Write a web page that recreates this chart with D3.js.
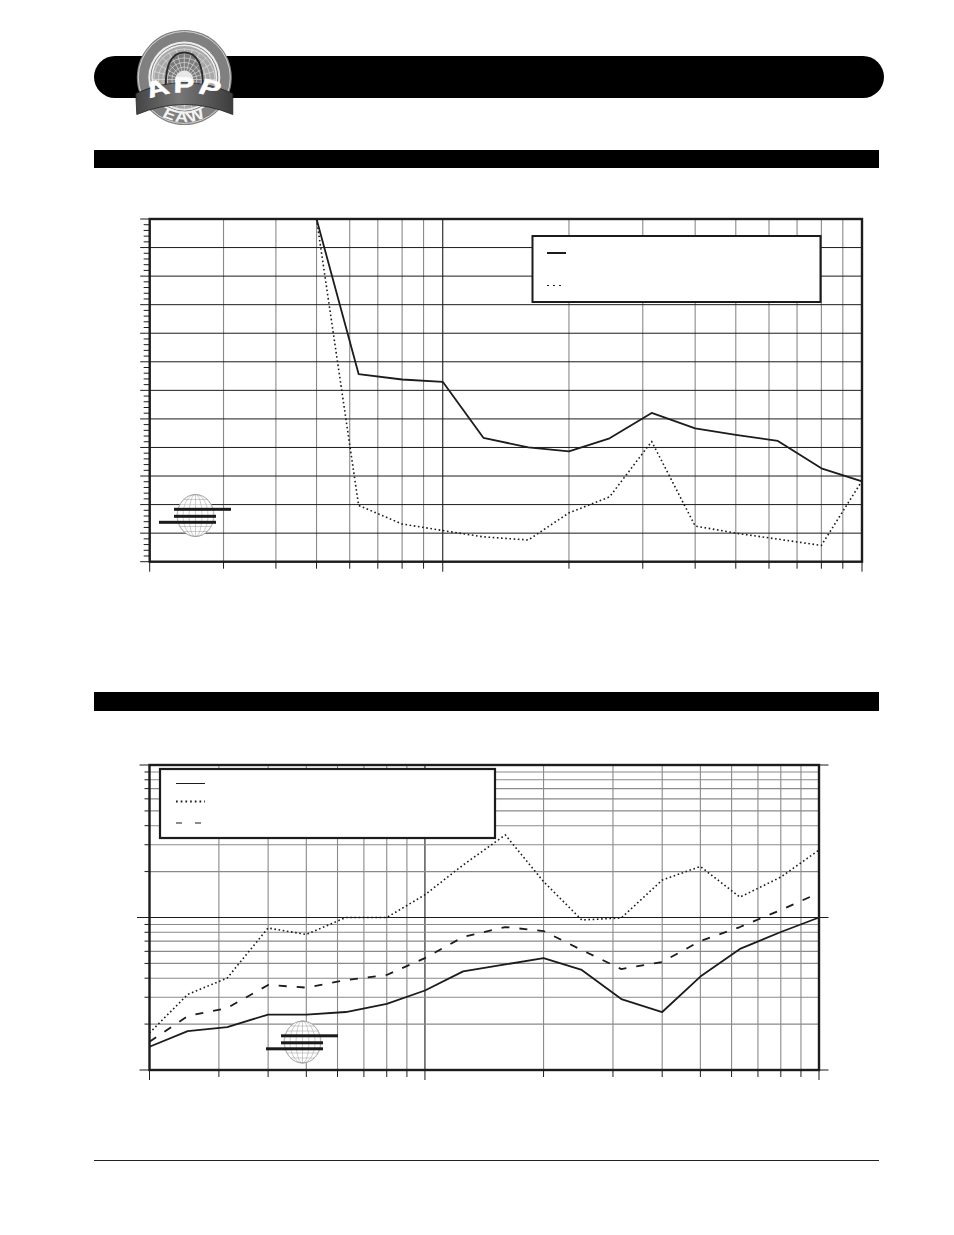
<!DOCTYPE html>
<html><head><meta charset="utf-8">
<script src="https://cdn.jsdelivr.net/npm/d3@7"></script>
<style>html,body{margin:0;padding:0;background:#fff}svg{display:block}</style>
</head><body><svg id="page" width="954" height="1235"></svg>
<script>
// ---------- data ----------
const freqA = [50,63,80,100,125,160,200,250,315,400,500,630,800,1000];
const solidA = [12,6.57,6.38,6.30,4.34,4.0,3.86,4.32,5.21,4.67,4.44,4.23,3.27,2.81];
const dottedA = [12,1.97,1.32,1.09,0.87,0.76,1.71,2.27,4.21,1.25,1.0,0.79,0.57,2.83];

const freqB = [20,25,31.5,40,50,63,80,100,125,160,200,250,315,400,500,630,800,1000];
const solidB = [1.42,1.80,1.91,2.31,2.31,2.40,2.71,3.32,4.43,4.92,5.42,4.53,2.92,2.40,4.10,6.22,8.03,10];
const dottedB = [1.75,3.13,4.01,8.53,7.74,10,10,14.1,22.1,34.8,17.2,9.63,9.93,17.6,21.6,13.6,18.4,27.7];
const dashedB = [1.53,2.26,2.55,3.61,3.47,3.89,4.20,5.42,7.45,8.66,8.15,6.12,4.59,5.11,7.01,8.66,11.2,14.5];

const freqTicks = [20,30,40,50,60,70,80,90,100,200,300,400,500,600,700,800,900,1000];
const linMajor = d3.range(0,13,1);
const linMinor = d3.range(0,12.01,0.2).map(v=>+v.toFixed(1));
const logTicks = [1,2,3,4,5,6,7,8,9,10,20,30,40,50,60,70,80,90,100];
const logDecades = [1,10,100];

const svg = d3.select("#page");
const INK = "#1d1b1c", GRID = "#8a8a8a";
const noLabel = () => "";

// ---------- page furniture ----------
svg.append("rect").attr("x",94).attr("y",56).attr("width",790).attr("height",42).attr("rx",21).attr("fill","#000");
svg.append("rect").attr("x",94).attr("y",150).attr("width",785).attr("height",18).attr("fill","#000");
svg.append("rect").attr("x",94).attr("y",692).attr("width",785).attr("height",19).attr("fill","#000");
svg.append("line").attr("x1",94).attr("x2",879).attr("y1",1160.5).attr("y2",1160.5).attr("stroke","#222").attr("stroke-width",1);

// ---------- top logo ----------
(function logo(){
  const g = svg.append("g").attr("transform","translate(184.3,77.5)");
  g.append("circle").attr("r",47.5).attr("fill","#808080");
  g.append("circle").attr("r",46).attr("fill","none").attr("stroke","#dcdcdc").attr("stroke-width",0.9);
  g.append("circle").attr("r",36).attr("fill","#eeeeee");
  g.append("circle").attr("r",33.5).attr("fill","none").attr("stroke","#666").attr("stroke-width",0.8);
  g.append("circle").attr("r",31.5).attr("fill","#a8a8a8");
  const p = g.append("g").attr("transform","translate(0,2)");
  p.append("path").attr("d","M-18,18C-21,-16,-12,-27,0,-27C12,-27,21,-16,18,18Z").attr("fill","#7c7c7c");
  d3.range(8,34,4.5).forEach(r=>p.append("circle").attr("r",r).attr("fill","none").attr("stroke","#e6e6e6").attr("stroke-width",0.6));
  d3.range(0,360,15).forEach(a=>{
    const t=a*Math.PI/180;
    p.append("line").attr("x1",8*Math.cos(t)).attr("y1",8*Math.sin(t))
      .attr("x2",31*Math.cos(t)).attr("y2",31*Math.sin(t)).attr("stroke","#e6e6e6").attr("stroke-width",0.6);
  });
  p.append("path").attr("d","M-18,18C-21,-16,-12,-27,0,-27C12,-27,21,-16,18,18").attr("fill","none").attr("stroke","#2a2a2a").attr("stroke-width",1.8);
  p.append("path").attr("d","M-9,0A9,9 0 0 1 9,0L9,4L-9,4Z").attr("fill","#e8e8e8");
  const defs = svg.append("defs");
  const grad = defs.append("linearGradient").attr("id","bannerFill").attr("x1",0).attr("x2",1).attr("y1",0).attr("y2",0);
  [[0,"#444"],[0.45,"#777"],[1,"#3c3c3c"]].forEach(s=>grad.append("stop").attr("offset",s[0]).attr("stop-color",s[1]));
  defs.append("path").attr("id","arcApp").attr("d","M-30,24Q0,6 30,24");
  defs.append("path").attr("id","arcEaw").attr("d","M-21,37Q0,52 21,37");
  const t = svg.append("g").attr("transform","translate(184.3,77.5)");
  t.append("g").attr("transform","scale(1.25,1)")
    .append("text").attr("font-family","Liberation Sans").attr("font-size",15).attr("font-weight",700).attr("fill","#f4f4f4")
    .attr("letter-spacing",1.5).append("textPath").attr("href","#arcEaw").attr("startOffset","50%").attr("text-anchor","middle").text("EAW");
  t.append("path").attr("d","M-48.5,16Q0,-6 48.5,16L48.5,37Q0,17 -47.5,37Z").attr("fill","url(#bannerFill)").attr("stroke","#222").attr("stroke-width",0.8);
  t.append("g").attr("transform","scale(1.4,1)")
    .append("text").attr("font-family","Liberation Sans").attr("font-size",22).attr("font-weight",700)
    .attr("fill","#fff").attr("stroke","#fff").attr("stroke-width",0.5).attr("letter-spacing",2)
    .append("textPath").attr("href","#arcApp").attr("startOffset","50%").attr("text-anchor","middle").text("APP");
})();

// small globe emblem
function globe(cx, cy){
  const g = svg.append("g").attr("transform",`translate(${cx},${cy})`);
  const c = "#9a9a9a";
  g.append("ellipse").attr("rx",18.5).attr("ry",21).attr("fill","#fff").attr("stroke",c).attr("stroke-width",0.6);
  [6.5,12.5,18].forEach(rx=>g.append("ellipse").attr("rx",rx).attr("ry",21).attr("fill","none").attr("stroke",c).attr("stroke-width",0.5));
  g.append("line").attr("y1",-21).attr("y2",21).attr("stroke",c).attr("stroke-width",0.5);
  [-16,-11,-6,0,6,11,16].forEach(dy=>{
    const hw = 18.5*Math.sqrt(1-(dy/21)*(dy/21));
    g.append("line").attr("x1",-hw).attr("x2",hw).attr("y1",dy).attr("y2",dy).attr("stroke",c).attr("stroke-width",0.5);
  });
  [[-21.5,35.5,-6.2],[-21.5,20.5,0.8],[-36.5,20.5,6.8]].forEach(b=>{
    g.append("rect").attr("x",b[0]).attr("width",b[1]-b[0]).attr("y",b[2]-1.5).attr("height",3).attr("fill","#1a1a1a");
  });
}

// ---------- generic plot helpers ----------
function xAxisLayers(g, x, top, bottom){
  g.append("g").attr("transform",`translate(0,${bottom})`)
    .call(d3.axisBottom(x).offset(0).tickValues(freqTicks).tickSize(top-bottom).tickFormat(noLabel))
    .call(a=>a.select(".domain").remove())
    .call(a=>a.selectAll("line").attr("stroke",d=>d===100?INK:GRID).attr("stroke-width",1.1));
  g.append("g").attr("transform",`translate(0,${bottom})`)
    .call(d3.axisBottom(x).offset(0).tickValues(freqTicks).tickSize(7).tickFormat(noLabel))
    .call(a=>a.select(".domain").remove())
    .call(a=>a.selectAll("line").attr("stroke",INK).attr("stroke-width",1)
      .attr("y2",d=>(d===20||d===1000||d===100)?10:7));
}
function frame(g, l, r, t, b){
  g.append("rect").attr("x",l).attr("y",t).attr("width",r-l).attr("height",b-t)
    .attr("fill","none").attr("stroke",INK).attr("stroke-width",2.4);
}
function series(g, x, y, xs, ys, dash, w){
  const line = d3.line().x((d,i)=>x(xs[i])).y(d=>y(d));
  g.append("path").datum(ys).attr("d",line).attr("fill","none").attr("stroke",INK)
    .attr("stroke-width",w).attr("stroke-linejoin","round")
    .attr("stroke-dasharray",dash);
}

// ---------- chart A ----------
(function(){
  const L=149.7,R=862,T=219,B=561.7;
  const x=d3.scaleLog().domain([20,1000]).range([L,R]);
  const y=d3.scaleLinear().domain([0,12]).range([B,T]);
  const g=svg.append("g");
  xAxisLayers(g,x,T,B);
  g.append("g").attr("transform",`translate(${L},0)`)
    .call(d3.axisLeft(y).offset(0).tickValues(linMajor).tickSize(L-R).tickFormat(noLabel))
    .call(a=>a.select(".domain").remove())
    .call(a=>a.selectAll("line").attr("stroke",INK).attr("stroke-width",1));
  g.append("g").attr("transform",`translate(${L},0)`)
    .call(d3.axisLeft(y).offset(0).tickValues(linMinor).tickSize(6).tickFormat(noLabel))
    .call(a=>a.select(".domain").remove())
    .call(a=>a.selectAll("line").attr("stroke",INK).attr("stroke-width",1)
      .attr("x2",d=>Number.isInteger(d)?-9.5:-6));
  frame(g,L,R,T,B);
  series(g,x,y,freqA,solidA,null,1.8);
  series(g,x,y,freqA,dottedA,"1.6 2.6",1.6);
  globe(195.5,515.5);
  svg.append("rect").attr("x",532.5).attr("y",236).attr("width",288).attr("height",66)
    .attr("fill","#fff").attr("stroke",INK).attr("stroke-width",2);
  svg.append("line").attr("x1",547).attr("x2",566).attr("y1",253).attr("y2",253).attr("stroke",INK).attr("stroke-width",2);
  svg.append("line").attr("x1",547).attr("x2",564).attr("y1",285.5).attr("y2",285.5).attr("stroke",INK).attr("stroke-width",1).attr("stroke-dasharray","2 4");
})();

// ---------- chart B ----------
(function(){
  const L=149.5,R=819,T=765,B=1070;
  const x=d3.scaleLog().domain([20,1000]).range([L,R]);
  const y=d3.scaleLog().domain([1,100]).range([B,T]);
  const g=svg.append("g");
  xAxisLayers(g,x,T,B);
  g.append("g").attr("transform",`translate(${L},0)`)
    .call(d3.axisLeft(y).offset(0).tickValues(logTicks).tickSize(L-R).tickFormat(noLabel))
    .call(a=>a.select(".domain").remove())
    .call(a=>a.selectAll("line").attr("stroke",d=>d===10?INK:GRID).attr("stroke-width",1.1));
  g.append("g").attr("transform",`translate(${L},0)`)
    .call(d3.axisLeft(y).offset(0).tickValues(logTicks).tickSize(5).tickFormat(noLabel))
    .call(a=>a.select(".domain").remove())
    .call(a=>a.selectAll("line").attr("stroke",INK).attr("stroke-width",1)
      .attr("x2",d=>d===10?-12.5:(d===1||d===100)?-10:-5));
  g.append("g").attr("transform",`translate(${R},0)`)
    .call(d3.axisRight(y).offset(0).tickValues(logDecades).tickSize(9.5).tickFormat(noLabel))
    .call(a=>a.select(".domain").remove())
    .call(a=>a.selectAll("line").attr("stroke",INK).attr("stroke-width",1));
  frame(g,L,R,T,B);
  series(g,x,y,freqB,solidB,null,1.8);
  series(g,x,y,freqB,dottedB,"1.6 2.6",1.6);
  series(g,x,y,freqB,dashedB,"8 10",1.8);
  globe(302.5,1042);
  svg.append("rect").attr("x",160).attr("y",769).attr("width",335).attr("height",69)
    .attr("fill","#fff").attr("stroke",INK).attr("stroke-width",2.2);
  svg.append("line").attr("x1",176).attr("x2",205).attr("y1",783.5).attr("y2",783.5).attr("stroke",INK).attr("stroke-width",1);
  svg.append("line").attr("x1",176).attr("x2",205).attr("y1",801.5).attr("y2",801.5).attr("stroke",INK).attr("stroke-width",1.8).attr("stroke-dasharray","1.7 3");
  svg.append("line").attr("x1",176).attr("x2",202).attr("y1",823).attr("y2",823).attr("stroke",INK).attr("stroke-width",1.2).attr("stroke-dasharray","6 13");
})();
</script></body></html>
